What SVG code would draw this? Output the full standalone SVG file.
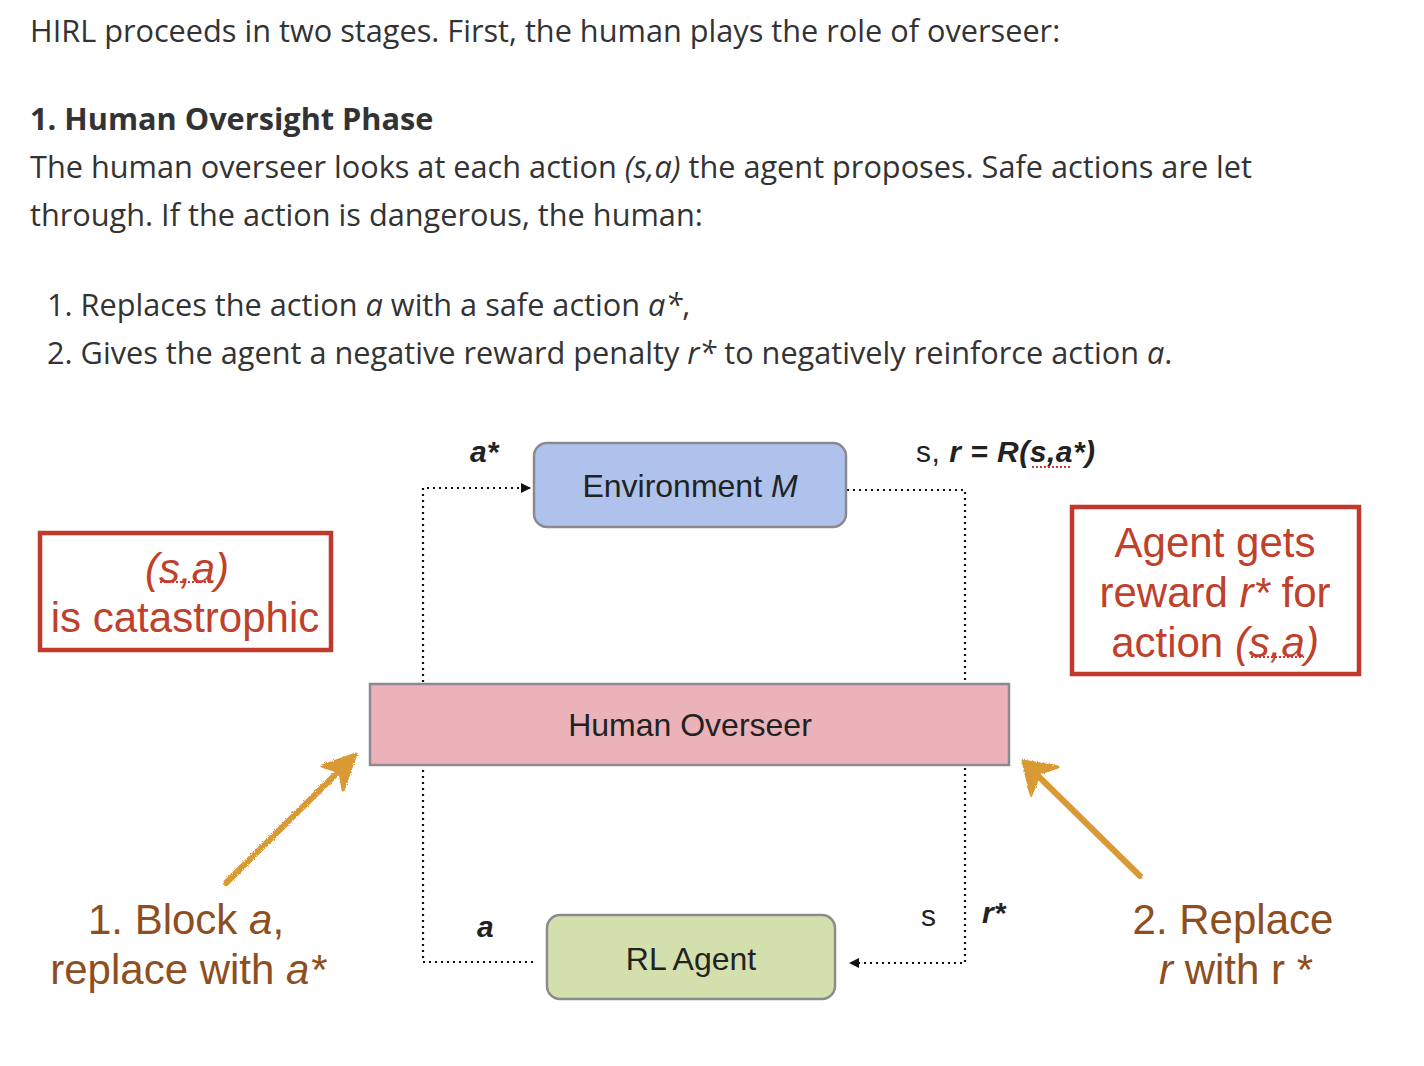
<svg xmlns="http://www.w3.org/2000/svg" width="1424" height="1066" viewBox="0 0 1424 1066">
<defs>
<style>
.p{font-family:"Open Sans","Liberation Sans",sans-serif;font-size:30.7px;fill:#333}
.h{font-weight:bold}
.i{font-style:italic}
.d{font-family:"Liberation Sans",Arial,sans-serif;fill:#222}
.node{font-size:32px;text-anchor:middle}
.lbl{font-size:30px}
.red{font-family:"Liberation Sans",Arial,sans-serif;font-size:42px;fill:#c0412b;text-anchor:middle}
.brn{font-family:"Liberation Sans",Arial,sans-serif;font-size:42px;fill:#8e4e20;text-anchor:middle}
.dot{fill:none;stroke:#111;stroke-width:2.2;stroke-dasharray:2 4}
.rbox{fill:#fff;stroke:#c0392b;stroke-width:4.5}
.orange{stroke:#d99a35;stroke-width:6;stroke-linecap:round;fill:none}
.squig{stroke:#e03030;stroke-width:2;stroke-dasharray:2 2}
</style>
<filter id="crayon" x="-10%" y="-10%" width="120%" height="120%">
<feTurbulence type="fractalNoise" baseFrequency="0.9" numOctaves="2" seed="3" result="n"/>
<feDisplacementMap in="SourceGraphic" in2="n" scale="3"/>
</filter>
<marker id="ah" viewBox="0 0 10 10" refX="9" refY="5" markerWidth="10" markerHeight="10" markerUnits="userSpaceOnUse" orient="auto">
<path d="M0,0 L10,5 L0,10 z" fill="#111"/>
</marker>
</defs>
<rect width="1424" height="1066" fill="#fff"/>

<g id="intro">
<text class="p" x="30" y="42">HIRL proceeds in two stages. First, the human plays the role of overseer:</text>
<text class="p h" x="30" y="130">1. Human Oversight Phase</text>
<text class="p" x="30" y="178">The human overseer looks at each action <tspan class="i">(s,a)</tspan> the agent proposes. Safe actions are let</text>
<text class="p" x="30" y="226">through. If the action is dangerous, the human:</text>
<text class="p" x="47" y="316">1. Replaces the action <tspan class="i">a</tspan> with a safe action <tspan class="i">a*</tspan>,</text>
<text class="p" x="47" y="364">2. Gives the agent a negative reward penalty <tspan class="i">r*</tspan> to negatively reinforce action <tspan class="i">a</tspan>.</text>
</g>

<g id="connectors">
<path class="dot" d="M533,962 H423 V488 H530" marker-end="url(#ah)"/>
<path class="dot" d="M847,490 H965 V963 H850" marker-end="url(#ah)"/>
</g>

<g id="environment">
<rect x="534" y="443" width="312" height="84" rx="13" fill="#aec2ec" stroke="#8a8a8f" stroke-width="2.5"/>
<text class="d node" x="690" y="497">Environment <tspan class="i">M</tspan></text>
</g>

<g id="overseer">
<rect x="370" y="684" width="639" height="81" fill="#ebb2ba" stroke="#8a8a90" stroke-width="2.5"/>
<text class="d node" x="690" y="736">Human Overseer</text>
</g>

<g id="agent">
<rect x="547" y="915" width="288" height="84" rx="13" fill="#d3e0ae" stroke="#8a8a8f" stroke-width="2.5"/>
<text class="d node" x="691" y="970">RL Agent</text>
</g>

<g id="labels">
<text class="d lbl h i" x="470" y="462">a*</text>
<text class="d lbl" x="916" y="462" letter-spacing="0.5">s, <tspan class="h i">r = R(s,a*)</tspan></text>
<line class="squig" x1="1032" y1="467" x2="1070" y2="467"/>
<text class="d lbl h i" x="477" y="937">a</text>
<text class="d lbl" x="921" y="926">s</text>
<text class="d lbl h i" x="982" y="923">r*</text>
</g>

<g id="catastrophic">
<rect class="rbox" x="40" y="533" width="291" height="117"/>
<text class="red" x="187" y="583"><tspan class="i">(s,a)</tspan></text>
<line class="squig" x1="160" y1="582" x2="212" y2="582"/>
<text class="red" x="185" y="632">is catastrophic</text>
</g>

<g id="reward-note">
<rect class="rbox" x="1072" y="507" width="287" height="167"/>
<text class="red" x="1215" y="557">Agent gets</text>
<text class="red" x="1215" y="607">reward <tspan class="i">r*</tspan> for</text>
<text class="red" x="1215" y="657">action <tspan class="i">(s,a)</tspan></text>
<line class="squig" x1="1251" y1="657" x2="1304" y2="657"/>
</g>

<g id="block-note">
<g filter="url(#crayon)">
<line class="orange" x1="226" y1="883" x2="348" y2="762"/>
<path d="M356,754 L322,766 L340,772 L343,790 z" fill="#d99a35" stroke="#d99a35" stroke-width="3" stroke-linejoin="round"/>
</g>
<text class="brn" x="186" y="934">1. Block <tspan class="i">a</tspan>,</text>
<text class="brn" x="188" y="984">replace with <tspan class="i">a*</tspan></text>
</g>

<g id="replace-note">
<g filter="url(#crayon)">
<line class="orange" x1="1140" y1="876" x2="1031" y2="769"/>
<path d="M1023,761 L1058,767 L1040,773 L1031,795 z" fill="#d99a35" stroke="#d99a35" stroke-width="3" stroke-linejoin="round"/>
</g>
<text class="brn" x="1233" y="934">2. Replace</text>
<text class="brn" x="1236" y="984"><tspan class="i">r</tspan> with r *</text>
</g>
</svg>
